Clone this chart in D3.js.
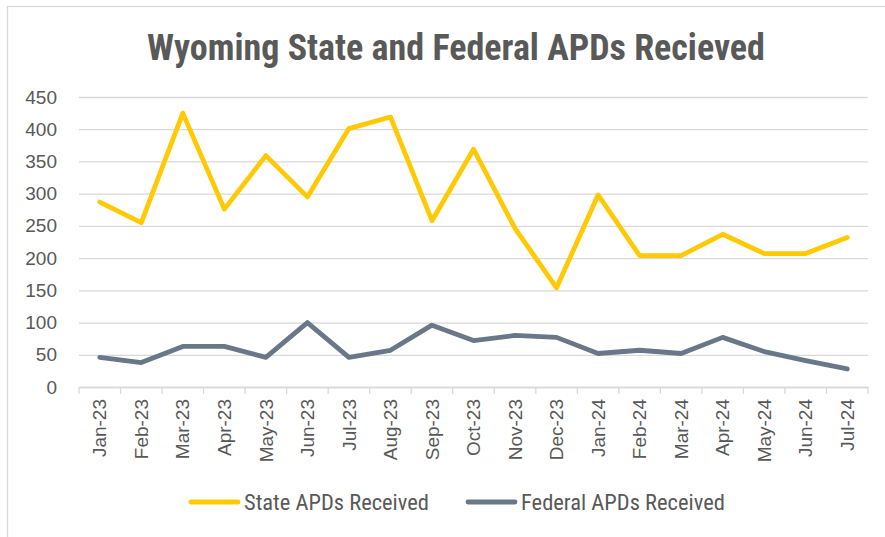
<!DOCTYPE html>
<html>
<head>
<meta charset="utf-8">
<script src="https://cdn.jsdelivr.net/npm/d3@7"></script>
<style>
  body { margin: 0; background: #fff; }
</style>
</head>
<body>
<svg id="chart"></svg>
<script>
// data
const months = ["Jan-23", "Feb-23", "Mar-23", "Apr-23", "May-23", "Jun-23", "Jul-23", "Aug-23", "Sep-23",
    "Oct-23", "Nov-23", "Dec-23", "Jan-24", "Feb-24", "Mar-24", "Apr-24", "May-24", "Jun-24", "Jul-24"];
const stateApds = [287, 255, 425, 276, 359, 295, 401, 419, 258, 369, 246, 154, 298, 204, 204, 237, 207, 207, 232];
const federalApds = [46, 38, 63, 63, 46, 100, 46, 57, 96, 72, 80, 77, 52, 57, 52, 77, 55, 41, 28];
const yTicks = [0, 50, 100, 150, 200, 250, 300, 350, 400, 450];

const seriesList = [
    { name: "State APDs Received", values: stateApds, color: "#ffc905", legendX: 191 },
    { name: "Federal APDs Received", values: federalApds, color: "#687888", legendX: 468 }
];

const w = 885;
const h = 537;
const margin = ({ top: 97, right: 17, bottom: 150, left: 79 });

const svg = d3.select("#chart")
    .attr("width", w)
    .attr("height", h)

// chart frame, runs off the right and bottom edge
svg.append("rect")
    .attr("x", 7.5)
    .attr("y", 6.5)
    .attr("width", w + 20)
    .attr("height", h + 20)
    .attr("fill", "none")
    .attr("stroke", "#d9d9d9")
    .attr("stroke-width", 1.3)

svg.append("text")
    .attr("x", 456)
    .attr("y", 60)
    .attr("text-anchor", "middle")
    .style("font-family", "'Liberation Sans Narrow', 'Roboto Condensed', sans-serif")
    .style("font-weight", "bold")
    .style("font-size", "36px")
    .attr("fill", "#595959")
    .text("Wyoming State and Federal APDs Recieved")

var xScale = d3.scaleBand()
    .domain(months)
    .range([margin.left, w - margin.right])

var yScale = d3.scaleLinear()
    .domain([0, 450])
    .range([h - margin.bottom, margin.top])

// gridlines
let yGrid = g => g
    .attr("transform", `translate(${margin.left},0)`)
    .call(d3.axisLeft(yScale).tickValues(yTicks).tickSize(-(w - margin.left - margin.right)).tickFormat(""))
    .call(g => g.select(".domain").remove())
    .call(g => g.selectAll(".tick line").attr("stroke", "#d9d9d9").attr("stroke-width", 1.3))

svg.append("g").call(yGrid);

let yAxis = g => g
    .attr("transform", `translate(57,0)`)
    .call(d3.axisLeft(yScale).tickValues(yTicks).tickSize(0).tickPadding(0))
    .call(g => g.select(".domain").remove())
    .call(g => g.selectAll("text")
        .style("font-family", "'Liberation Sans', Arial, sans-serif")
        .style("font-size", "19px")
        .attr("fill", "#595959"))

svg.append("g").call(yAxis);

// category ticks sit on band edges
const edges = months.map(m => xScale(m)).concat([xScale.range()[1]]);
svg.append("g")
    .selectAll("line")
    .data(edges)
    .join("line")
    .attr("x1", d => d)
    .attr("x2", d => d)
    .attr("y1", yScale(0))
    .attr("y2", yScale(0) + 7)
    .attr("stroke", "#d9d9d9")
    .attr("stroke-width", 1.3)

let xAxis = g => g
    .attr("transform", `translate(0,${yScale(0)})`)
    .call(d3.axisBottom(xScale).tickSize(0).tickPadding(0))
    .call(g => g.select(".domain").attr("stroke", "#d9d9d9").attr("stroke-width", 1.3))
    .call(g => g.selectAll("text")
        .attr("transform", "rotate(-90)")
        .attr("x", -12)
        .attr("y", 0)
        .attr("dy", "0.35em")
        .attr("text-anchor", "end")
        .style("font-family", "'Liberation Sans', Arial, sans-serif")
        .style("font-size", "19px")
        .attr("fill", "#595959"))

svg.append("g").call(xAxis);

const line = d3.line()
    .x((d, i) => xScale(months[i]) + xScale.bandwidth() / 2)
    .y(d => yScale(d))

svg.append("g")
    .selectAll("path")
    .data(seriesList)
    .join("path")
    .attr("d", d => line(d.values))
    .attr("fill", "none")
    .attr("stroke", d => d.color)
    .attr("stroke-width", 4.8)
    .attr("stroke-linejoin", "round")
    .attr("stroke-linecap", "round")

// legend
const legend = svg.append("g")
    .selectAll("g")
    .data(seriesList)
    .join("g")
    .attr("transform", d => `translate(${d.legendX},502)`)

legend.append("line")
    .attr("x1", 0)
    .attr("x2", 47)
    .attr("stroke", d => d.color)
    .attr("stroke-width", 4.8)
    .attr("stroke-linecap", "round")

legend.append("text")
    .attr("x", 53)
    .attr("y", 8)
    .style("font-family", "'Liberation Sans Narrow', 'Roboto Condensed', sans-serif")
    .style("font-size", "22.5px")
    .attr("fill", "#595959")
    .text(d => d.name)
</script>
</body>
</html>
